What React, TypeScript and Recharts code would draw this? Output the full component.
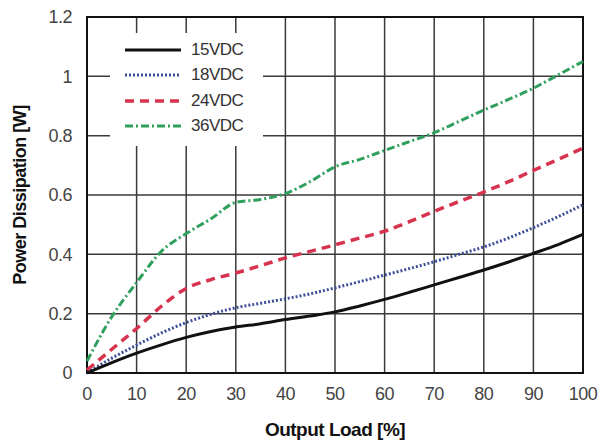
import { LineChart, Line, XAxis, YAxis, CartesianGrid, Legend, ReferenceArea, Label } from 'recharts';

const LOAD = [0, 5, 10, 15, 20, 25, 30, 35, 40, 45, 50, 55, 60, 65, 70, 75, 80, 85, 90, 95, 100];
const P_15V = [0, 0.035, 0.067, 0.095, 0.12, 0.14, 0.155, 0.166, 0.18, 0.192, 0.206, 0.226, 0.248, 0.272, 0.297, 0.322, 0.347, 0.374, 0.403, 0.433, 0.467];
const P_18V = [0, 0.05, 0.094, 0.135, 0.17, 0.198, 0.22, 0.235, 0.25, 0.267, 0.287, 0.308, 0.33, 0.352, 0.375, 0.4, 0.425, 0.455, 0.49, 0.527, 0.567];
const P_24V = [0.01, 0.08, 0.15, 0.225, 0.285, 0.315, 0.337, 0.362, 0.388, 0.41, 0.432, 0.455, 0.478, 0.51, 0.545, 0.578, 0.61, 0.645, 0.683, 0.72, 0.758];
const P_36V = [0.04, 0.19, 0.305, 0.41, 0.47, 0.52, 0.575, 0.585, 0.605, 0.645, 0.695, 0.72, 0.75, 0.78, 0.81, 0.848, 0.886, 0.922, 0.96, 1.005, 1.05];

const X_TICKS = [0, 10, 20, 30, 40, 50, 60, 70, 80, 90, 100];
const Y_TICKS = [0, 0.2, 0.4, 0.6, 0.8, 1, 1.2];

const SERIES = [
    { key: 'v15', name: '15VDC', color: '#111111', width: 3, dash: undefined },
    { key: 'v18', name: '18VDC', color: '#3d4f9c', width: 3, dash: '2 2' },
    { key: 'v24', name: '24VDC', color: '#d8334e', width: 3.5, dash: '9 6' },
    { key: 'v36', name: '36VDC', color: '#2f9f5e', width: 3, dash: '8 3 2 3' },
];

const data = LOAD.map((x, i) => ({ x, v15: P_15V[i], v18: P_18V[i], v24: P_24V[i], v36: P_36V[i] }));

const FONT = '"Liberation Sans Narrow", "Liberation Sans", Arial, sans-serif';

function LegendBox() {
    return (
        <div style={{ background: '#fff', width: 153, height: 109, paddingTop: 4 }}>
            {SERIES.map((s) => (
                <div key={s.key} style={{ display: 'flex', alignItems: 'center', height: 25.5 }}>
                    <svg width={72} height={10} style={{ marginLeft: 13 }}>
                        <line x1={2} y1={5} x2={58} y2={5} stroke={s.color} strokeWidth={s.width} strokeDasharray={s.dash} />
                    </svg>
                    <span style={{ fontFamily: FONT, fontSize: 17, color: '#333', marginLeft: -4, letterSpacing: -0.5 }}>{s.name}</span>
                </div>
            ))}
        </div>
    );
}

export default function App() {
    return (
        <div style={{ position: 'absolute', left: 0, top: 0, width: 598, height: 445, background: '#fff' }}>
            <LineChart width={598} height={445} data={data} margin={{ top: 17, right: 15, left: 0, bottom: 0 }}>
                <CartesianGrid stroke="#3a3a3a" strokeWidth={1.5} horizontalValues={Y_TICKS} verticalValues={X_TICKS} />
                <XAxis dataKey="x" type="number" domain={[0, 100]} ticks={X_TICKS} height={72}
                    axisLine={false} tickLine={false} tickSize={6} tickMargin={8}
                    tick={{ fontSize: 18, fill: '#444', fontFamily: FONT, letterSpacing: -0.5 }}>
                    <Label value="Output Load [%]" position="insideBottom" offset={9}
                        style={{ fontSize: 19, fontWeight: 700, fill: '#111', fontFamily: FONT, letterSpacing: -0.5 }} />
                </XAxis>
                <YAxis type="number" domain={[0, 1.2]} ticks={Y_TICKS} width={87}
                    axisLine={false} tickLine={false} tickSize={6} tickMargin={9}
                    tick={{ fontSize: 18, fill: '#444', fontFamily: FONT, letterSpacing: -0.5 }}>
                    <Label value="Power Dissipation [W]" angle={-90} position="insideLeft" offset={20}
                        style={{ fontSize: 18, fontWeight: 700, fill: '#111', fontFamily: FONT, textAnchor: 'middle', letterSpacing: -0.5 }} />
                </YAxis>
                <ReferenceArea x1={0} x2={100} y1={0} y2={1.2} fill="none" stroke="#111" strokeWidth={2} strokeOpacity={1} />
                <Legend layout="vertical" align="center" verticalAlign="middle" content={() => <LegendBox />}
                    wrapperStyle={{ left: 110, top: 33, width: 153, height: 109 }} />
                {[...SERIES].reverse().map((s) => (
                    <Line key={s.key} dataKey={s.key} name={s.name} type="monotone" stroke={s.color}
                        strokeWidth={s.width} strokeDasharray={s.dash} dot={false} isAnimationActive={false} />
                ))}
            </LineChart>
        </div>
    );
}
